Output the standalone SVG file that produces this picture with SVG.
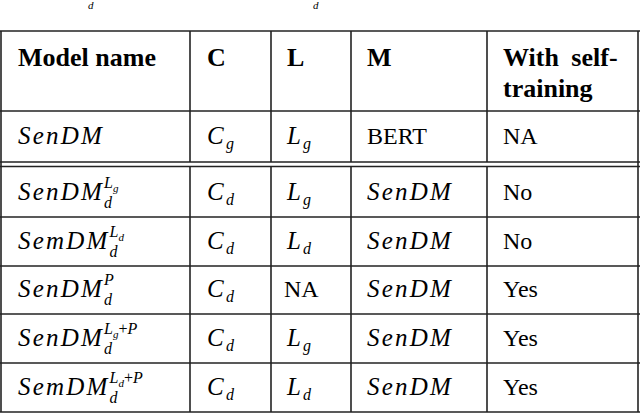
<svg xmlns="http://www.w3.org/2000/svg" width="640" height="418" viewBox="0 0 640 418">
<style>
text{font-family:"Liberation Serif",serif;font-size:24px;fill:#000}
.b{font-weight:bold;font-size:26px}
.i{font-style:italic;font-size:25px;letter-spacing:2.2px}
.s{font-size:16px;letter-spacing:0}
.t{font-size:11px;letter-spacing:0}
line{stroke:#222;stroke-width:1.6}
</style>
<rect width="640" height="418" fill="#fff"/>
<g id="connectors">
<line x1="0" y1="31" x2="640" y2="31"/>
<line x1="0" y1="111" x2="640" y2="111"/>
<line x1="0" y1="162" x2="640" y2="162"/>
<line x1="0" y1="166.5" x2="640" y2="166.5"/>
<line x1="0" y1="217" x2="640" y2="217"/>
<line x1="0" y1="266" x2="640" y2="266"/>
<line x1="0" y1="314" x2="640" y2="314"/>
<line x1="0" y1="363" x2="640" y2="363"/>
<line x1="0" y1="412" x2="640" y2="412"/>
<line x1="1" y1="31" x2="1" y2="412"/>
<line x1="190" y1="31" x2="190" y2="162"/><line x1="190" y1="166.5" x2="190" y2="412"/>
<line x1="271" y1="31" x2="271" y2="162"/><line x1="271" y1="166.5" x2="271" y2="412"/>
<line x1="351" y1="31" x2="351" y2="162"/><line x1="351" y1="166.5" x2="351" y2="412"/>
<line x1="487" y1="31" x2="487" y2="162"/><line x1="487" y1="166.5" x2="487" y2="412"/>
<line x1="638" y1="31" x2="638" y2="412"/>
</g>
<g id="top-fragments"><text class="i t" x="88" y="9">d</text><text class="i t" x="313" y="9">d</text></g>
<g id="header">
<text class="b" x="18" y="66">Model name</text>
<text class="b" x="207" y="66">C</text>
<text class="b" x="287" y="66">L</text>
<text class="b" x="367" y="66">M</text>
<text class="b" x="503" y="66" word-spacing="6">With self-</text>
<text class="b" x="503" y="97">training</text>
</g>
<g id="row1">
<text class="i" x="18" y="144">SenDM</text>
<text class="i" x="207" y="144">C<tspan class="s" dy="5">g</tspan></text>
<text class="i" x="287" y="144">L<tspan class="s" dy="5">g</tspan></text>
<text x="367" y="144">BERT</text>
<text x="503" y="144">NA</text>
</g>
<g id="row2">
<text class="i" x="18" y="200">SenDM<tspan class="s" dy="8">d</tspan><tspan class="s" dx="-8" dy="-20">L</tspan><tspan class="t" dy="4">g</tspan></text>
<text class="i" x="207" y="200">C<tspan class="s" dy="5">d</tspan></text>
<text class="i" x="287" y="200">L<tspan class="s" dy="5">g</tspan></text>
<text class="i" x="367" y="200">SenDM</text>
<text x="503" y="200">No</text>
</g>
<g id="row3">
<text class="i" x="18" y="249">SemDM<tspan class="s" dy="8">d</tspan><tspan class="s" dx="-8" dy="-20">L</tspan><tspan class="t" dy="4">d</tspan></text>
<text class="i" x="207" y="249">C<tspan class="s" dy="5">d</tspan></text>
<text class="i" x="287" y="249">L<tspan class="s" dy="5">d</tspan></text>
<text class="i" x="367" y="249">SenDM</text>
<text x="503" y="249">No</text>
</g>
<g id="row4">
<text class="i" x="18" y="297">SenDM<tspan class="s" dy="8">d</tspan><tspan class="s" dx="-8" dy="-20">P</tspan></text>
<text class="i" x="207" y="297">C<tspan class="s" dy="5">d</tspan></text>
<text x="284" y="297">NA</text>
<text class="i" x="367" y="297">SenDM</text>
<text x="503" y="297">Yes</text>
</g>
<g id="row5">
<text class="i" x="18" y="346">SenDM<tspan class="s" dy="8">d</tspan><tspan class="s" dx="-8" dy="-20">L</tspan><tspan class="t" dy="4">g</tspan><tspan class="s" style="font-style:normal" dy="-4">+</tspan><tspan class="s">P</tspan></text>
<text class="i" x="207" y="346">C<tspan class="s" dy="5">d</tspan></text>
<text class="i" x="287" y="346">L<tspan class="s" dy="5">g</tspan></text>
<text class="i" x="367" y="346">SenDM</text>
<text x="503" y="346">Yes</text>
</g>
<g id="row6">
<text class="i" x="18" y="395">SemDM<tspan class="s" dy="8">d</tspan><tspan class="s" dx="-8" dy="-20">L</tspan><tspan class="t" dy="4">d</tspan><tspan class="s" style="font-style:normal" dy="-4">+</tspan><tspan class="s">P</tspan></text>
<text class="i" x="207" y="395">C<tspan class="s" dy="5">d</tspan></text>
<text class="i" x="287" y="395">L<tspan class="s" dy="5">d</tspan></text>
<text class="i" x="367" y="395">SenDM</text>
<text x="503" y="395">Yes</text>
</g>
</svg>
